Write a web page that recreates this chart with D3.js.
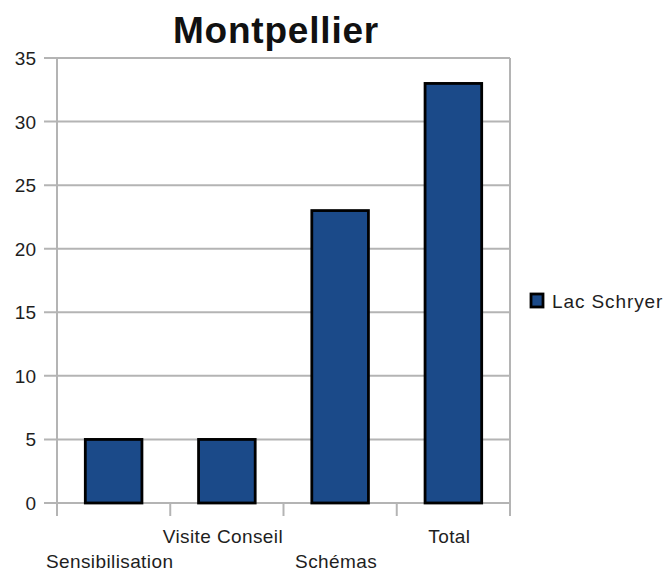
<!DOCTYPE html>
<html>
<head>
<meta charset="utf-8">
<script src="https://cdn.jsdelivr.net/npm/d3@7"></script>
<style>
  html, body { margin: 0; padding: 0; background: #fff; }
  svg { display: block; font-family: "Liberation Sans", Arial, sans-serif; }
</style>
</head>
<body>
<svg id="chart" width="669" height="573"></svg>
<script>
// Bar chart data
const categories = ["Sensibilisation", "Visite Conseil", "Schémas", "Total"];
const seriesName = "Lac Schryer";
const values = [5, 5, 23, 33];
const yTicks = [0, 5, 10, 15, 20, 25, 30, 35];
const titleText = "Montpellier";

const svg = d3.select("#chart");
const margin = { left: 57, right: 159, top: 58, bottom: 70 };
const W = 669, H = 573;
const x0 = margin.left, x1 = W - margin.right;
const y0 = H - margin.bottom, y1 = margin.top;

const x = d3.scaleBand().domain(categories).range([x0, x1]).paddingInner(0).paddingOuter(0);
const y = d3.scaleLinear().domain([0, 35]).range([y0, y1]);

const gridColor = "#b4b4b4";
const textColor = "#1e1e1e";

// Horizontal grid lines with outward ticks
svg.append("g").selectAll("line").data(yTicks).join("line")
  .attr("x1", x0 - 13).attr("x2", x1)
  .attr("y1", d => y(d)).attr("y2", d => y(d))
  .attr("stroke", gridColor).attr("stroke-width", 2);

// Y axis line and right border
svg.append("line").attr("x1", x0).attr("x2", x0).attr("y1", y1).attr("y2", y0 + 13)
  .attr("stroke", gridColor).attr("stroke-width", 2);
svg.append("line").attr("x1", x1).attr("x2", x1).attr("y1", y1).attr("y2", y0 + 13)
  .attr("stroke", gridColor).attr("stroke-width", 2);

// Category boundary ticks under the baseline
const bounds = categories.slice(1).map(c => x(c));
svg.append("g").selectAll("line").data(bounds).join("line")
  .attr("x1", d => d).attr("x2", d => d)
  .attr("y1", y0).attr("y2", y0 + 13)
  .attr("stroke", gridColor).attr("stroke-width", 2);

// Y tick labels
svg.append("g").selectAll("text").data(yTicks).join("text")
  .attr("x", 36).attr("y", d => y(d) + 7)
  .attr("text-anchor", "end")
  .attr("font-size", 19).attr("fill", textColor)
  .text(d => d);

// Bars
const barW = x.bandwidth() * 0.5;
svg.append("g").selectAll("rect").data(values).join("rect")
  .attr("x", (d, i) => x(categories[i]) + (x.bandwidth() - barW) / 2)
  .attr("y", d => y(d))
  .attr("width", barW)
  .attr("height", d => y(0) - y(d))
  .attr("fill", "#1b4a89")
  .attr("stroke", "#000").attr("stroke-width", 2.8);

// Category labels, staggered on two rows
svg.append("g").selectAll("text").data(categories).join("text")
  .attr("x", d => x(d) + x.bandwidth() / 2 - 4)
  .attr("y", (d, i) => i % 2 === 0 ? 568 : 543)
  .attr("text-anchor", "middle")
  .attr("font-size", 19).attr("letter-spacing", 0.4).attr("fill", textColor)
  .text(d => d);

// Title
svg.append("text")
  .attr("x", 276).attr("y", 43)
  .attr("text-anchor", "middle")
  .attr("font-size", 37).attr("font-weight", "bold").attr("letter-spacing", 0.8).attr("fill", "#111")
  .text(titleText);

// Legend
const lg = svg.append("g").attr("transform", "translate(530,293)");
lg.append("rect").attr("x", 1).attr("y", 1).attr("width", 12).attr("height", 13)
  .attr("fill", "#1b4a89").attr("stroke", "#000").attr("stroke-width", 2.8);
lg.append("text").attr("x", 22).attr("y", 15)
  .attr("font-size", 19).attr("letter-spacing", 0.9).attr("fill", textColor)
  .text(seriesName);
</script>
</body>
</html>
